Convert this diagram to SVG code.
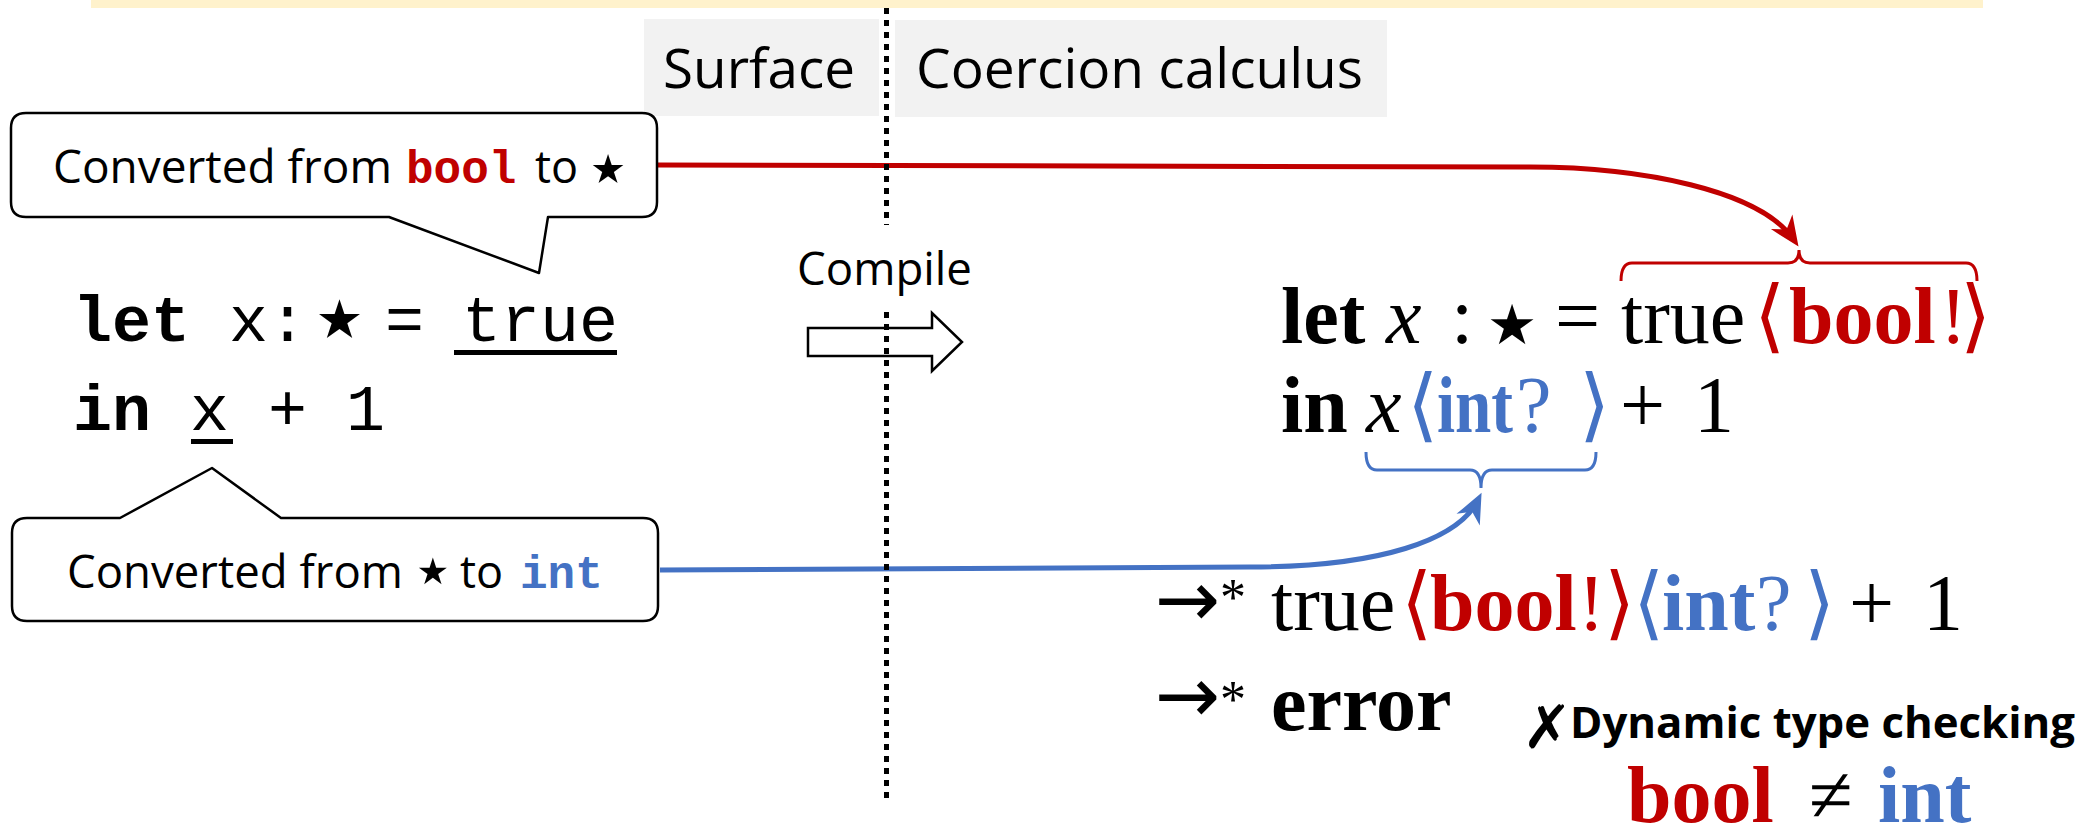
<svg xmlns="http://www.w3.org/2000/svg" width="2096" height="826" viewBox="0 0 2096 826">
<defs>
<style>
.sans{font-family:"Open Sans","Liberation Sans",sans-serif;}
.mono{font-family:"Liberation Mono","DejaVu Sans Mono",monospace;}
.serif{font-family:"Liberation Serif","DejaVu Serif",serif;font-size:80px;}
.sym{font-family:"DejaVu Sans",sans-serif;}
.red{fill:#C00000;}
.blue{fill:#4472C4;}
.b{font-weight:bold;}
.i{font-style:italic;}
.sup{font-size:52px;}
.callout{fill:#fff;stroke:#000;stroke-width:2.5;stroke-linejoin:round;}
.hdr{fill:#F2F2F2;}
.dots{stroke:#000;stroke-width:5;stroke-dasharray:6 6;fill:none;}
.brace{fill:none;stroke-width:3;}
</style>
<marker id="ahRed" markerUnits="userSpaceOnUse" markerWidth="60" markerHeight="60" viewBox="-30 -30 60 60" refX="0" refY="0" orient="auto" overflow="visible"><path d="M8,0 L-22,-13 L-13,0 L-22,13 Z" fill="#C00000"/></marker>
<marker id="ahBlue" markerUnits="userSpaceOnUse" markerWidth="60" markerHeight="60" viewBox="-30 -30 60 60" refX="0" refY="0" orient="auto" overflow="visible"><path d="M8,0 L-22,-13 L-13,0 L-22,13 Z" fill="#4472C4"/></marker>
</defs>
<rect x="0" y="0" width="2096" height="826" fill="#fff"/>
<rect x="91" y="0" width="1892" height="8" fill="#FFF2CC"/>

<g id="header-surface">
<rect class="hdr" x="644" y="19" width="235" height="97"/>
<text class="sans" x="663" y="88" font-size="55" textLength="192" lengthAdjust="spacingAndGlyphs">Surface</text>
</g>
<g id="header-coercion">
<rect class="hdr" x="895" y="20" width="492" height="97"/>
<text class="sans" x="916" y="88" font-size="55" textLength="447" lengthAdjust="spacingAndGlyphs">Coercion calculus</text>
</g>

<g id="compile">
<path d="M808,328 H932 V313 L962,342 L932,371 V356 H808 Z" fill="#fff" stroke="#000" stroke-width="2.5" stroke-linejoin="miter"/>
<text class="sans" x="797" y="285" font-size="45" textLength="175" lengthAdjust="spacingAndGlyphs">Compile</text>
</g>

<g id="connectors">
<path d="M657,165 L1530,167 C1640,167 1760,190 1794,240" fill="none" stroke="#C00000" stroke-width="5" marker-end="url(#ahRed)"/>
<path d="M660,570 L1250,567 C1380,567 1458,540 1478,500" fill="none" stroke="#4472C4" stroke-width="5" marker-end="url(#ahBlue)"/>
</g>

<g id="divider">
<line class="dots" x1="886.5" y1="8" x2="886.5" y2="225"/>
<line class="dots" x1="886.5" y1="312" x2="886.5" y2="800"/>
</g>

<g id="callout-bool">
<path class="callout" d="M26,113 H642 Q657,113 657,128 V202 Q657,217 642,217 H548 L539,273 L389,217 H26 Q11,217 11,202 V128 Q11,113 26,113 Z"/>
<text x="53" y="183" font-size="45"><tspan class="sans" x="53" textLength="339" lengthAdjust="spacingAndGlyphs">Converted from</tspan><tspan class="mono b red" x="406" font-size="46">bool</tspan><tspan class="sans" x="535">to</tspan></text>
<text class="sym" x="583" y="195" font-size="80">⋆</text>
</g>

<g id="callout-int">
<path class="callout" d="M27,518 H120 L212,468 L281,518 H643 Q658,518 658,533 V606 Q658,621 643,621 H27 Q12,621 12,606 V533 Q12,518 27,518 Z"/>
<text x="67" y="588" font-size="45"><tspan class="sans" x="67" textLength="336" lengthAdjust="spacingAndGlyphs">Converted from</tspan><tspan class="sans" x="460">to</tspan><tspan class="mono b blue" x="520" font-size="46">int</tspan></text>
<text class="sym" x="410" y="595" font-size="73">⋆</text>
</g>

<g id="surface-code">
<text class="mono" y="341" font-size="65"><tspan class="b" x="73">let</tspan><tspan x="229">x</tspan><tspan x="268">:</tspan><tspan x="385">=</tspan><tspan x="462">true</tspan></text>
<text class="sym" x="306" y="354" font-size="107">⋆</text>
<rect x="454" y="350" width="163" height="5"/>
<text class="mono" y="430" font-size="65"><tspan class="b" x="73">in</tspan><tspan x="190">x</tspan><tspan x="268">+</tspan><tspan x="346">1</tspan></text>
<rect x="191" y="439" width="42" height="5"/>
</g>

<g id="coercion-code">
<text class="serif" y="343"><tspan class="b" x="1281">let</tspan><tspan class="i" x="1386">x</tspan><tspan x="1451">:</tspan><tspan x="1555">=</tspan><tspan x="1621">true</tspan><tspan class="red" x="1754">⟨</tspan><tspan class="red b" x="1789">bool</tspan><tspan class="red" x="1940">!</tspan><tspan class="red" x="1960">⟩</tspan></text>
<text class="sym" x="1477" y="361" font-size="112">⋆</text>
<path class="brace" stroke="#C00000" d="M1621,281 Q1621,263 1632,263 L1788,263 Q1799,263 1799,250 Q1799,263 1810,263 L1966,263 Q1977,263 1977,281"/>
<text class="serif" y="432"><tspan class="b" x="1281">in</tspan><tspan class="i" x="1366">x</tspan><tspan class="blue" x="1407">⟨</tspan><tspan class="blue b" x="1437" textLength="76" lengthAdjust="spacingAndGlyphs">int</tspan><tspan class="blue" x="1516">?</tspan><tspan class="blue" x="1579">⟩</tspan><tspan x="1620">+</tspan><tspan x="1694">1</tspan></text>
<path class="brace" stroke="#4472C4" d="M1366,452 Q1366,470 1377,470 L1470,470 Q1481,470 1481,488 Q1481,470 1492,470 L1585,470 Q1596,470 1596,452"/>
<text class="sym" x="1155" y="626" font-size="78">→</text>
<text class="serif sup" x="1220" y="615">*</text>
<text class="serif" y="630"><tspan x="1271">true</tspan><tspan class="red" x="1401">⟨</tspan><tspan class="red b" x="1430">bool</tspan><tspan class="red" x="1578">!</tspan><tspan class="red" x="1604">⟩</tspan><tspan class="blue" x="1633">⟨</tspan><tspan class="blue b" x="1662">int</tspan><tspan class="blue" x="1756">?</tspan><tspan class="blue" x="1804">⟩</tspan><tspan x="1849">+</tspan><tspan x="1923">1</tspan></text>
<text class="sym" x="1155" y="722" font-size="78">→</text>
<text class="serif sup" x="1220" y="717">*</text>
<text class="serif b" x="1271" y="730">error</text>
</g>

<g id="dynamic-check">
<text class="sym b" x="1522" y="748" font-size="60">✗</text>
<text class="sans b" x="1570" y="738" font-size="43" textLength="505" lengthAdjust="spacingAndGlyphs">Dynamic type checking</text>
<text class="serif" y="822"><tspan class="red b" x="1627">bool</tspan><tspan x="1809">≠</tspan><tspan class="blue b" x="1878">int</tspan></text>
</g>
</svg>
